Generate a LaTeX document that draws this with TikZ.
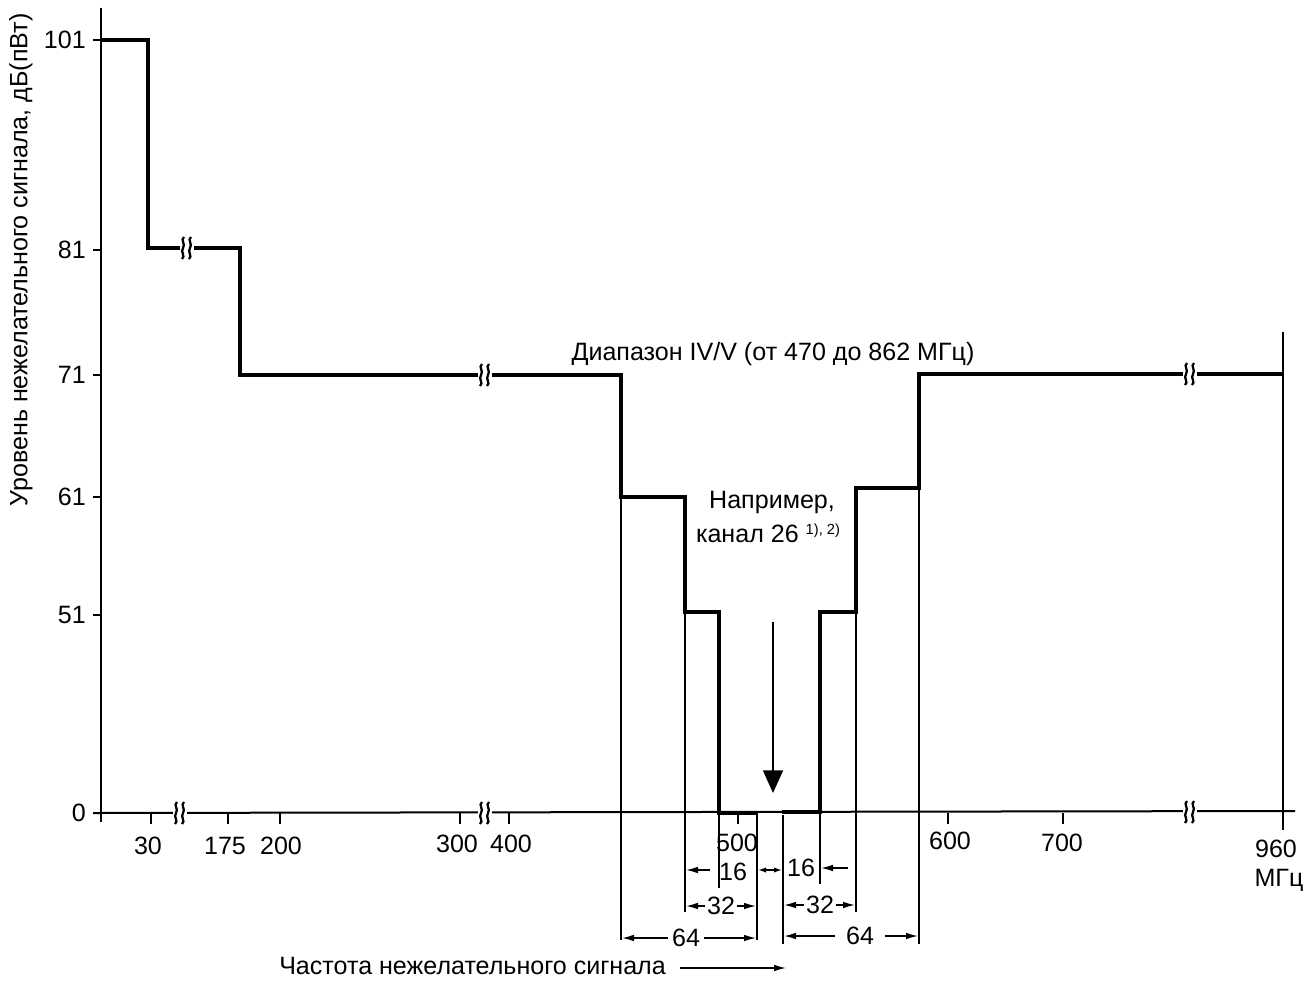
\documentclass[tikz,border=0pt]{standalone}
\usepackage{fontspec}
\setmainfont{Liberation Sans}
\usetikzlibrary{arrows.meta}
\tikzset{
  curve/.style={line width=3.2pt, line join=miter},
  axis/.style={line width=1.5pt},
  thin/.style={line width=1.1pt},
  lbl/.style={inner sep=0pt, font=\fontsize{18.8}{22}\selectfont},
  dim/.style={line width=1.1pt, -{Latex[length=9pt,width=5pt]}},
  brk/.pic={
    \fill[white] (-7,-10) rectangle (7,10);
    \draw[line width=1.7pt] (-3,-11) .. controls (-7,-8) and (-1,-4) .. (-4,0) .. controls (-7,4) and (-1,8) .. (-5,11);
    \draw[line width=1.7pt] (4,-11) .. controls (0,-8) and (6,-4) .. (3,0) .. controls (0,4) and (6,8) .. (2,11);
  }
}
\begin{document}
\begin{tikzpicture}[x=0.75pt,y=-0.75pt]
\useasboundingbox (0,0) rectangle (1316,981);
% axes
\draw[axis] (101,8) -- (101,822);
\draw[axis] (93,813) -- (1295,811);
\draw[axis] (1283,332) -- (1283,830);
% y ticks
\foreach \yy/\t in {40/101,250/81,375/71,497/61,615/51,813/0}{
  \draw[axis] (93,\yy) -- (101,\yy);
  \node[lbl, anchor=east] (y\t) at (86,\yy) {\t};
}
% x ticks
\foreach \xx/\t in {151/30,228/175,280/200,460/300,509/400,738/500,948/600,1063/700}{
  \draw[axis] (\xx,813) -- (\xx,824);
}
\node[lbl] (x30) at (148,846) {30};
\node[lbl] (x175) at (225,846) {175};
\node[lbl] (x200) at (281,846) {200};
\node[lbl] (x300) at (457,844) {300};
\node[lbl] (x400) at (511,844) {400};
\node[lbl] (x500) at (737,843) {500};
\node[lbl] (x600) at (950,841) {600};
\node[lbl] (x700) at (1062,843) {700};
\node[lbl] (x960) at (1276,849) {960};
\node[lbl] (mhz) at (1279,880) {МГц};
% axis label
\node[lbl, rotate=90] (ylab) at (21,260) {Уровень нежелательного сигнала, дБ(пВт)};
% extension lines
\draw[thin] (621,497) -- (621,940);
\draw[thin] (685,612) -- (685,912);
\draw[thin] (719,813) -- (719,888);
\draw[thin] (757,813) -- (757,940);
\draw[thin] (783,815) -- (783,944);
\draw[thin] (820,812) -- (820,884);
\draw[thin] (856,612) -- (856,912);
\draw[thin] (919,488) -- (919,944);
% curve
\draw[curve] (101,40) -- (148,40) -- (148,248) -- (240,248) -- (240,375) -- (621,375) -- (621,497) -- (685,497) -- (685,612) -- (719,612) -- (719,813) -- (757,813);
\draw[curve] (782,812) -- (820,812) -- (820,612) -- (856,612) -- (856,488) -- (919,488) -- (919,374) -- (1283,374);
% breaks
\pic at (187,248) {brk};
\pic at (485,375) {brk};
\pic at (1190,374) {brk};
\pic at (180,813) {brk};
\pic at (485,813) {brk};
\pic at (1190,812) {brk};
% labels
\node[lbl] (band) at (773,354) {Диапазон IV/V (от 470 до 862 МГц)};
\node[lbl] (ex1) at (772,502) {Например,};
\node[lbl] (ex2) at (768,533) {канал 26 {\fontsize{11}{12}\selectfont\raisebox{6pt}{1), 2)}}};
% central arrow
\coordinate (cA) at (773,622);
\coordinate (cB) at (773,793);
\draw[line width=1.3pt, -{Triangle[length=17pt,width=15pt]}] (cA) -- (cB);
% dimensions 16
\node[lbl] (d16a) at (733,872) {16};
\node[lbl] (d16b) at (801,868) {16};
\draw[dim] (710,870) -- (686,870);
\draw[dim] (848,868) -- (821,868);
\draw[line width=1.1pt, {Latex[length=6pt,width=4pt]}-{Latex[length=6pt,width=4pt]}] (758,870) -- (782,870);
% dimensions 32
\node[lbl, fill=white, inner xsep=1pt] (d32a) at (721,906) {32};
\draw[dim] (d32a.west) -- (686,906);
\draw[dim] (d32a.east) -- (756,906);
\node[lbl, fill=white, inner xsep=1pt] (d32b) at (820,905) {32};
\draw[dim] (d32b.west) -- (784,905);
\draw[dim] (d32b.east) -- (855,905);
% dimensions 64
\node[lbl, fill=white, inner xsep=3pt] (d64a) at (686,938) {64};
\draw[dim] (d64a.west) -- (622,938);
\draw[dim] (d64a.east) -- (756,938);
\node[lbl, fill=white, inner xsep=8pt] (d64b) at (860,936) {64};
\draw[dim] (d64b.west) -- (784,936);
\draw[dim] (d64b.east) -- (918,936);
% bottom caption
\node[lbl, anchor=west] (fq) at (279,966) {Частота нежелательного сигнала};
\coordinate (fqS) at (680,968);
\coordinate (fqE) at (786,968);
\draw[dim] (fqS) -- (fqE);
\end{tikzpicture}
\end{document}
